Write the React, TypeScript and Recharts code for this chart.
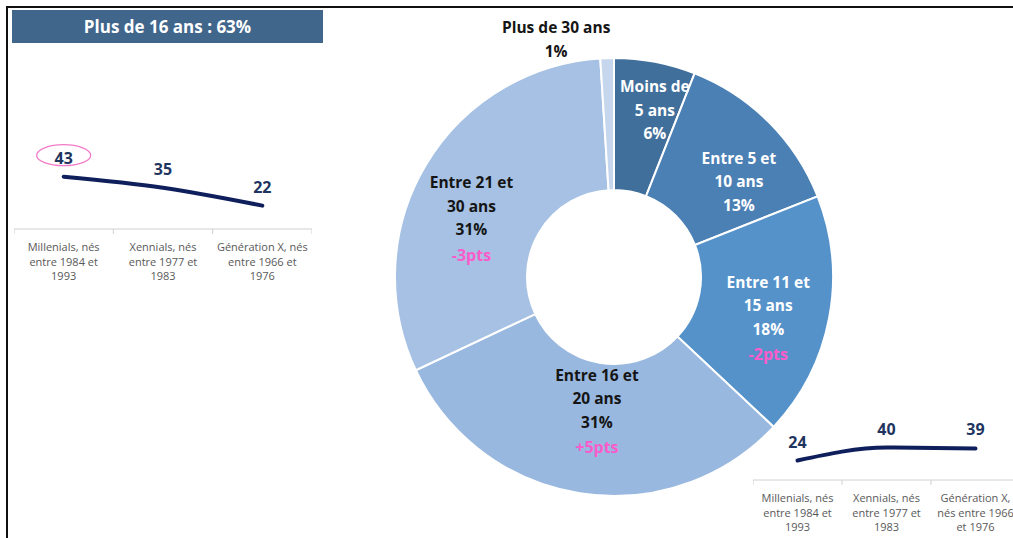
import React from 'react';
import { PieChart, Pie, Cell, LineChart, Line, XAxis, YAxis } from 'recharts';

// Donut: seniority split
const sliceLabels = [
  ['Moins de', '5 ans'],
  ['Entre 5 et', '10 ans'],
  ['Entre 11 et', '15 ans'],
  ['Entre 16 et', '20 ans'],
  ['Entre 21 et', '30 ans'],
  ['Plus de 30 ans'],
];
const sliceShares = [6, 13, 18, 31, 31, 1];
const sliceDeltas = ['', '', '-2pts', '+5pts', '-3pts', ''];

// Small line charts by generation
const headerText = 'Plus de 16 ans : 63%';
const generationsLeft = [
  ['Millenials, nés', 'entre 1984 et', '1993'],
  ['Xennials, nés', 'entre 1977 et', '1983'],
  ['Génération X, nés', 'entre 1966 et', '1976'],
];
const valuesLeft = [43, 35, 22];

const generationsRight = [
  ['Millenials, nés', 'entre 1984 et', '1993'],
  ['Xennials, nés', 'entre 1977 et', '1983'],
  ['Génération X,', 'nés entre 1966', 'et 1976'],
];
const valuesRight = [24, 40, 39];

// styles
const FONT = '"Open Sans", Lato, sans-serif';
const sliceColors = ['#416F9C', '#4B80B4', '#5592CA', '#99B8DF', '#A6C1E3', '#C6D6EC'];
const sliceTextColors = ['#ffffff', '#ffffff', '#ffffff', '#151515', '#151515', '#151515'];
const labelShift = [[12, -16], [16, 13], [3, 12], [7, -18], [-10, 20], [-53, -84]];
const PINK = '#FA5CCB';
const NAVY = '#0F1F5C';
const VALUE_COLOR = '#1F3560';
const AXIS_GRAY = '#D0D0D0';

const renderSliceLabel = (props: any) => {
  const { cx, cy, midAngle, innerRadius, outerRadius, index } = props;
  const r = (87 + 221) / 2;
  const rad = (-midAngle * Math.PI) / 180;
  const [dx, dy] = labelShift[index];
  const x = cx + r * Math.cos(rad) + dx;
  const yc = cy + r * Math.sin(rad) + dy;
  const lines = [...sliceLabels[index], `${sliceShares[index]}%`];
  const delta = sliceDeltas[index];
  const step = 23.5;
  const total = (lines.length - 1) * step + (delta ? step + 2 : 0);
  const y0 = yc - total / 2;
  return (
    <g>
      {lines.map((l, i) => (
        <text key={i} x={x} y={y0 + i * step} textAnchor="middle" dominantBaseline="central"
          fontFamily={FONT} fontWeight="bold" fontSize={15.5} fill={sliceTextColors[index]}>
          {l}
        </text>
      ))}
      {delta && (
        <text x={x} y={y0 + lines.length * step + 2} textAnchor="middle" dominantBaseline="central"
          fontFamily={FONT} fontWeight="bold" fontSize={16} fill={PINK}>
          {delta}
        </text>
      )}
    </g>
  );
};

interface GenProps {
  left: number;
  top: number;
  width: number;
  plotTop: number;
  plotHeight: number;
  domain: [number, number];
  categories: string[][];
  values: number[];
  circled?: number;
}

const GenerationLine: React.FC<GenProps> = ({ left, top, width, plotTop, plotHeight, domain, categories, values, circled = -1 }) => {
  const data = values.map((v, i) => ({ pos: i + 0.5, value: v }));
  const ticks: number[] = [];
  for (let i = 0; i <= categories.length * 2; i++) ticks.push(i / 2);
  const axisH = 58;

  const renderTick = (p: any) => {
    const v = p.payload.value;
    if (Number.isInteger(v)) {
      return <line x1={p.x} x2={p.x} y1={p.y} y2={p.y + 5} stroke={AXIS_GRAY} />;
    }
    const lines = categories[Math.floor(v)];
    return (
      <g>
        {lines.map((l, i) => (
          <text key={i} x={p.x} y={p.y + 17.5 + i * 14.5} textAnchor="middle" dominantBaseline="central"
            fontFamily={FONT} fontSize={11} fill="#595959">
            {l}
          </text>
        ))}
      </g>
    );
  };

  const renderValue = (p: any) => {
    const { cx, cy, index, payload } = p;
    return (
      <g key={index}>
        {circled === index && (
          <ellipse cx={cx} cy={cy - 21.5} rx={27} ry={10.5} fill="none" stroke="#F27BC9" strokeWidth={1.3} />
        )}
        <text x={cx} y={cy - 13} textAnchor="middle" fontFamily={FONT} fontWeight="bold" fontSize={16} fill={VALUE_COLOR}>
          {payload.value}
        </text>
      </g>
    );
  };

  return (
    <div style={{ position: 'absolute', left, top, width, height: plotTop + plotHeight + axisH }}>
      <LineChart width={width} height={plotTop + plotHeight + axisH} data={data}
        margin={{ top: plotTop, right: 0, bottom: 0, left: 0 }}>
        <XAxis dataKey="pos" type="number" domain={[0, categories.length]} ticks={ticks} interval={0}
          tickLine={false} tickSize={0} tickMargin={0} height={axisH}
          axisLine={{ stroke: AXIS_GRAY }} tick={renderTick} />
        <YAxis hide domain={domain} />
        <Line dataKey="value" type="monotone" stroke={NAVY} strokeWidth={4} strokeLinecap="round"
          dot={renderValue} activeDot={false} isAnimationActive={false} />
      </LineChart>
    </div>
  );
};

export default function App() {
  const pieData = sliceShares.map((v, i) => ({ name: sliceLabels[i].join(' '), value: v }));
  return (
    <div style={{ position: 'absolute', left: 0, top: 0, width: 1013, height: 538, overflow: 'hidden', background: '#fff', fontFamily: FONT }}>
      {/* frame */}
      <div style={{ position: 'absolute', left: 6, top: 6, width: 1013, height: 540, borderTop: '2px solid #111', borderLeft: '2px solid #111' }} />

      {/* header */}
      <div style={{ position: 'absolute', left: 12, top: 10, width: 311, height: 33, background: '#41668C', color: '#fff', fontWeight: 'bold', fontSize: 17, lineHeight: '33px', textAlign: 'center' }}>
        {headerText}
      </div>

      <div style={{ position: 'absolute', left: 380, top: 0, width: 480, height: 530 }}>
        <PieChart width={480} height={530} margin={{ top: 0, right: 0, bottom: 0, left: 0 }}>
          <Pie data={pieData} dataKey="value" cx={234} cy={277} innerRadius={87} outerRadius={219}
            startAngle={90} endAngle={-270} stroke="#ffffff" strokeWidth={2}
            label={renderSliceLabel} labelLine={false} isAnimationActive={false}>
            {pieData.map((_, i) => <Cell key={i} fill={sliceColors[i]} />)}
          </Pie>
        </PieChart>
      </div>

      <GenerationLine left={14} top={100} width={298} plotTop={12} plotHeight={117} domain={[5, 90]}
        categories={generationsLeft} values={valuesLeft} circled={0} />
      <GenerationLine left={753} top={390} width={267} plotTop={9} plotHeight={81} domain={[0, 100]}
        categories={generationsRight} values={valuesRight} />
    </div>
  );
}
